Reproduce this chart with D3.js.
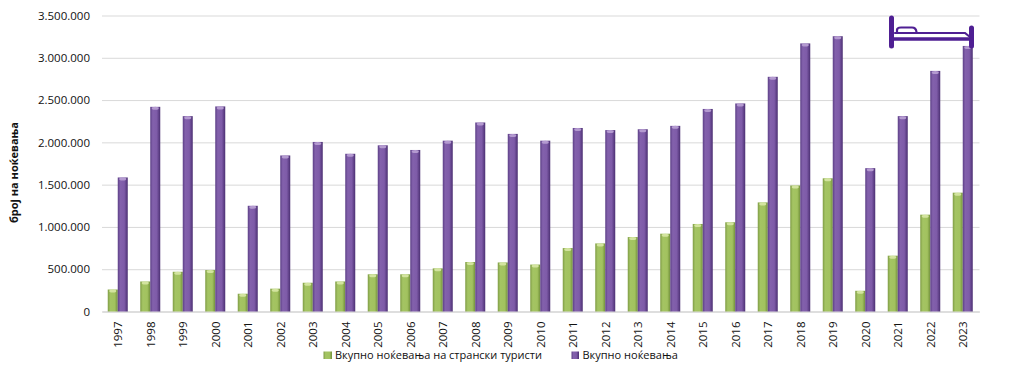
<!DOCTYPE html>
<html><head><meta charset="utf-8">
<script src="https://cdn.jsdelivr.net/npm/d3@7"></script>
<style>html,body{margin:0;padding:0;background:#fff}svg{display:block}text{font-family:"Open Sans",sans-serif;fill:#111}</style>
</head><body><div id="c"></div>
<script>
const years=["1997","1998","1999","2000","2001","2002","2003","2004","2005","2006","2007","2008","2009","2010","2011","2012","2013","2014","2015","2016","2017","2018","2019","2020","2021","2022","2023"];
const foreignNights=[260000,355000,470000,490000,210000,270000,340000,355000,440000,440000,510000,585000,580000,555000,750000,805000,880000,920000,1035000,1055000,1290000,1490000,1575000,245000,660000,1145000,1405000];
const totalNights=[1585000,2420000,2310000,2425000,1250000,1845000,2005000,1865000,1965000,1910000,2020000,2235000,2100000,2020000,2170000,2145000,2155000,2195000,2395000,2460000,2775000,3170000,3255000,1695000,2310000,2845000,3140000];
const yTicks=[0,500000,1000000,1500000,2000000,2500000,3000000,3500000];
const seriesNames=["Вкупно ноќевања на странски туристи","Вкупно ноќевања"];
const yTitle="број на ноќевања";

const W=1013,H=375,L=102,R=979.5,T=15.5,B=311.5;
const svg=d3.select("#c").append("svg").attr("width",W).attr("height",H);
const x=d3.scaleBand().domain(years).range([L,R]);
const y=d3.scaleLinear().domain([0,3500000]).range([B,T]);
const fmt=v=>d3.format(",")(v).replace(/,/g,".");
const barW=10;

const defs=svg.append("defs");
function grad(id,stops){const g=defs.append("linearGradient").attr("id",id);
  stops.forEach(s=>g.append("stop").attr("offset",s[0]).attr("stop-color",s[1]));}
grad("gG",[[0,"#7f9c45"],[.25,"#a4c463"],[.7,"#a2c25f"],[1,"#72903c"]]);
grad("gP",[[0,"#5c3f86"],[.25,"#8361ac"],[.65,"#7e5ba8"],[1,"#4b2f72"]]);

const gy=svg.append("g").attr("transform",`translate(${L},0)`)
 .call(d3.axisLeft(y).tickValues(yTicks).tickSize(0).tickPadding(12).tickFormat(fmt));
gy.select(".domain").remove();
gy.selectAll("text").attr("font-size",11.5).attr("fill","#111");
gy.selectAll(".tick line").attr("x2",R-L).attr("stroke","#d9d9d9").attr("stroke-width",1);

const gx=svg.append("g").attr("transform",`translate(0,${B})`)
 .call(d3.axisBottom(x).tickSize(0).tickPadding(0));
gx.select(".domain").attr("stroke","#d0d0d0");
gx.selectAll("text").attr("font-size",11.5).attr("fill","#111")
 .attr("text-anchor","end").attr("dy",0).attr("dx",0)
 .attr("transform","translate(4,10) rotate(-90)");

function bars(vals,offset,fill,top,cls){
  const g=svg.append("g").attr("class",cls);
  g.selectAll("rect").data(vals).join("rect")
   .attr("x",(d,i)=>x(years[i])+x.bandwidth()/2+offset)
   .attr("width",barW).attr("y",d=>y(d)).attr("height",d=>B-y(d)).attr("fill",fill);
  g.selectAll("ellipse").data(vals).join("ellipse")
   .attr("cx",(d,i)=>x(years[i])+x.bandwidth()/2+offset+barW/2)
   .attr("cy",d=>y(d)+1.5).attr("rx",barW/2-1.5).attr("ry",1.5).attr("fill",top);
}
bars(foreignNights,-10.5,"url(#gG)","#d3e49f","green");
bars(totalNights,-0.5,"url(#gP)","#b49ad0","purple");

svg.append("text").attr("transform",`translate(18,${(T+B)/2+9}) rotate(-90)`)
 .attr("text-anchor","middle").attr("font-size",11).attr("font-weight",700).text(yTitle);

const lg=[[323.5,"url(#gG)",seriesNames[0],11,8.5,335],[571.5,"url(#gP)",seriesNames[1],11,7.5,582.5]];
lg.forEach(l=>{
  svg.append("rect").attr("x",l[0]).attr("y",351.5).attr("width",l[4]).attr("height",7.5).attr("fill",l[1]);
  svg.append("text").attr("x",l[5]).attr("y",359).attr("font-size",l[3]).text(l[2]);
});

// bed icon
const c="#4f1f93",icon=svg.append("g").attr("fill","none").attr("stroke",c).attr("stroke-linecap","round");
icon.append("path").attr("d","M891.5 18V46").attr("stroke-width",5);
icon.append("path").attr("d","M971.5 28V46").attr("stroke-width",5);
icon.append("path").attr("d","M891.5 39H971.5").attr("stroke-width",3.5);
icon.append("path").attr("d","M895 33H965L970 37").attr("stroke-width",2.2);
icon.append("path").attr("d","M897 32.5V30Q897 27.5 901 27.5H912Q916 27.5 916.5 32").attr("stroke-width",2.2);
</script></body></html>
